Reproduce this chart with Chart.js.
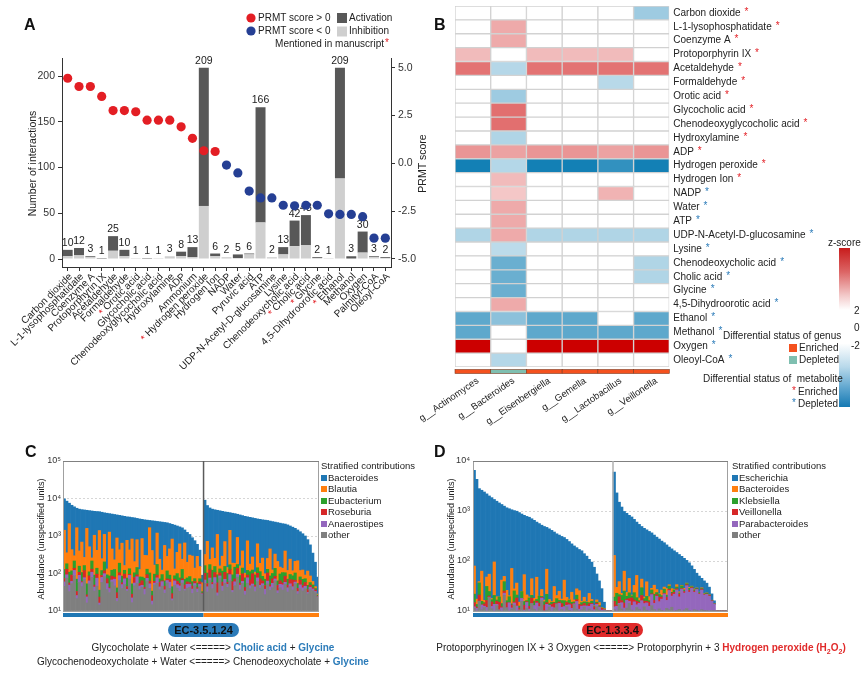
<!DOCTYPE html>
<html>
<head>
<meta charset="utf-8">
<script src="https://cdn.jsdelivr.net/npm/chart.js@4.4.1/dist/chart.umd.min.js"></script>
<style>
  body { margin: 0; background: #fff; font-family: "Liberation Sans", Arial, sans-serif; }
  #wrap { position: relative; width: 865px; height: 676px; overflow: hidden; background: #fff; }
  canvas { position: absolute; }
  .t { position: absolute; white-space: nowrap; color: #222; font-size: 10px; line-height: 12px; }
  .c { transform: translate(-50%, -50%); }
  .letter { position: absolute; font-weight: bold; font-size: 16px; line-height: 16px; color: #111; }
  .badge { position: absolute; height: 14px; line-height: 14px; border-radius: 7px; text-align: center;
           font-weight: bold; font-size: 11px; color: #111; }
  .bl { color: #2b7bb9; }
  .rd { color: #e02a2a; }
  .sq { display: inline-block; width: 6px; height: 6px; margin-right: 1px; vertical-align: 0px; }
  .leg { position: absolute; font-size: 9.5px; line-height: 11.5px; color: #222; white-space: nowrap; }
</style>
</head>
<body>
<div id="wrap">
  <canvas id="chartA" width="430" height="400" style="left:0;top:0"></canvas>
  <canvas id="chartB" width="465" height="438" style="left:400px;top:0"></canvas>
  <canvas id="chartC" width="430" height="236" style="left:0;top:440px"></canvas>
  <canvas id="chartD" width="435" height="236" style="left:430px;top:440px"></canvas>

  <div class="letter" style="left:24px;top:17px">A</div>
  <div class="letter" style="left:434px;top:17px">B</div>
  <div class="letter" style="left:25px;top:444px">C</div>
  <div class="letter" style="left:434px;top:444px">D</div>

  <div class="leg" style="left:321px;top:460px">
    <div>Stratified contributions</div>
    <div><span class="sq" style="background:#1f77b4"></span>Bacteroides</div>
    <div><span class="sq" style="background:#ff7f0e"></span>Blautia</div>
    <div><span class="sq" style="background:#2ca02c"></span>Eubacterium</div>
    <div><span class="sq" style="background:#d62728"></span>Roseburia</div>
    <div><span class="sq" style="background:#9467bd"></span>Anaerostipes</div>
    <div><span class="sq" style="background:#7f7f7f"></span>other</div>
  </div>
  <div class="leg" style="left:732px;top:460px">
    <div>Stratified contributions</div>
    <div><span class="sq" style="background:#1f77b4"></span>Escherichia</div>
    <div><span class="sq" style="background:#ff7f0e"></span>Bacteroides</div>
    <div><span class="sq" style="background:#2ca02c"></span>Klebsiella</div>
    <div><span class="sq" style="background:#d62728"></span>Veillonella</div>
    <div><span class="sq" style="background:#9467bd"></span>Parabacteroides</div>
    <div><span class="sq" style="background:#7f7f7f"></span>other</div>
  </div>

  <div class="badge" style="left:168px;top:623px;width:71px;background:#2b7bb9">EC-3.5.1.24</div>
  <div class="t c" style="left:213px;top:648px">Glycocholate + Water &lt;=====&gt; <b class="bl">Cholic acid</b> + <b class="bl">Glycine</b></div>
  <div class="t c" style="left:203px;top:662px">Glycochenodeoxycholate + Water &lt;=====&gt; Chenodeoxycholate + <b class="bl">Glycine</b></div>

  <div class="badge" style="left:582px;top:623px;width:61px;background:#e02a2a">EC-1.3.3.4</div>
  <div class="t c" style="left:641px;top:650px">Protoporphyrinogen IX + 3 Oxygen &lt;=====&gt; Protoporphyrin + 3 <b class="rd">Hydrogen peroxide (H<sub style="font-size:7px">2</sub>O<sub style="font-size:7px">2</sub>)</b></div>
</div>

<script>
const FONT = '"Liberation Sans", Arial, sans-serif';
Chart.defaults.font.family = FONT;
const RED = '#e31e24';
const BLUE = '#253f94';

// ---------- Panel A data ----------
const aLabels = ['Carbon dioxide', 'L-1-lysophosphatidate', 'Coenzyme A', 'Protoporphyrin IX', 'Acetaldehyde',
  'Formaldehyde', 'Orotic acid', 'Glycocholic acid', 'Chenodeoxyglycocholic acid', 'Hydroxylamine', 'ADP',
  'Ammonium', 'Hydrogen peroxide', 'Hydrogen Ion', 'NADP', 'Water', 'Pyruvic acid', 'ATP',
  'UDP-N-Acetyl-D-glucosamine', 'Lysine', 'Chenodeoxycholic acid', 'Cholic acid', 'Glycine',
  '4,5-Dihydroorotic acid', 'Ethanol', 'Methanol', 'Oxygen', 'Palmityl-CoA', 'Oleoyl-CoA'];
const aInhibition = [3, 4, 2, 0, 9, 3, 1, 0, 1, 3, 3, 2, 58, 3, 2, 1, 5, 40, 2, 5, 14, 15, 1, 1, 88, 0, 7, 2, 1];
const aActivation = [7, 8, 1, 1, 16, 7, 0, 1, 0, 0, 5, 11, 151, 3, 0, 4, 1, 126, 0, 8, 28, 33, 1, 0, 121, 3, 23, 1, 1];
const aScore = [4.45, 4.02, 4.02, 3.5, 2.76, 2.76, 2.7, 2.26, 2.26, 2.26, 1.91, 1.31, 0.66, 0.62, -0.09, -0.5,
  -1.45, -1.81, -1.81, -2.19, -2.22, -2.19, -2.19, -2.64, -2.67, -2.67, -2.79, -3.91, -3.91];
const aStarred = ['Orotic acid', 'Hydrogen peroxide', 'Cholic acid', 'Glycine', 'Ethanol'];
const aCountTicks = [0, 50, 100, 150, 200];
const aScoreTicks = [-5, -2.5, 0, 2.5, 5];

// ---------- Panel B data ----------
const hmRows = ['Carbon dioxide', 'L-1-lysophosphatidate', 'Coenzyme A', 'Protoporphyrin IX', 'Acetaldehyde',
  'Formaldehyde', 'Orotic acid', 'Glycocholic acid', 'Chenodeoxyglycocholic acid', 'Hydroxylamine', 'ADP',
  'Hydrogen peroxide', 'Hydrogen Ion', 'NADP', 'Water', 'ATP', 'UDP-N-Acetyl-D-glucosamine', 'Lysine',
  'Chenodeoxycholic acid', 'Cholic acid', 'Glycine', '4,5-Dihydroorotic acid', 'Ethanol', 'Methanol',
  'Oxygen', 'Oleoyl-CoA'];
const hmRowStatus = [1, 1, 1, 1, 1, 1, 1, 1, 1, 1, 1, 1, 1, -1, -1, -1, -1, -1, -1, -1, -1, -1, -1, -1, -1, -1];
const hmGenera = ['g__Actinomyces', 'g__Bacteroides', 'g__Eisenbergiella', 'g__Gemella', 'g__Lactobacillus', 'g__Veillonella'];
const hmGenusStatus = [1, -1, 1, 1, 1, 1];
const hmActinomyces =    [null, null, null, 0.8, 1.65, null, null, null, null, null, 1.25, -3, null, null, null, null, -1.0, null, null, null, null, null, -2.05, -2.05, 3, null];
const hmBacteroides =    [null, 1.0, 1.0, null, -0.94, null, -1.23, 1.7, 1.7, -1.0, 1.1, -0.95, 0.8, 0.66, 1.0, 1.0, 1.0, -0.85, -1.9, -1.9, -1.9, 1.0, -1.46, null, null, -0.95];
const hmEisenbergiella = [null, null, null, 0.8, 1.65, null, null, null, null, null, 1.25, -3, null, null, null, null, -1.0, null, null, null, null, null, -2.05, -2.05, 3, null];
const hmGemella =        [null, null, null, 0.8, 1.65, null, null, null, null, null, 1.25, -3, null, null, null, null, -1.0, null, null, null, null, null, -2.05, -2.05, 3, null];
const hmLactobacillus =  [null, null, null, 0.8, 1.65, -0.9, null, null, null, null, 1.1, -2.6, null, 0.9, null, null, -1.0, null, null, null, null, null, null, -2.05, 3, null];
const hmVeillonella =    [-1.23, null, null, null, 1.65, null, null, null, null, null, 1.25, -3, null, null, null, null, -1.0, null, -1.0, -1.0, null, null, -2.05, -2.05, 3, null];

// ---------- Panel C data: samples sorted by total abundance; shares in % of each sample ----------
const cGroups = [56, 46];
const cTotal = [9800,8500,7500,6600,6000,5500,5200,5050,4950,4850,4750,4650,4550,4500,4450,4300,4150,4050,3950,3850,
  3750,3650,3550,3450,3350,3250,3200,3120,3050,2950,2850,2780,2700,2650,2600,2550,2500,2450,2400,2350,
  2300,2250,2150,2050,1950,1850,1750,1650,1450,1250,1100,900,750,600,420,90,
  9000,6500,5600,5200,5000,4850,4700,4550,4400,4300,4200,4050,3950,3800,3650,3500,3350,3250,3150,3050,
  2950,2850,2780,2700,2650,2600,2500,2420,2350,2280,2200,2130,2080,1980,1850,1720,1600,1450,1300,1150,
  1000,800,580,350,200,80];
const cOtherPct = [22,30,18,26,34,12,28,24,31,8,27,33,20,25,6,29,35,22,19,30,26,10,32,24,28,21,34,9,27,30,
  23,26,18,33,25,7,29,31,24,28,20,35,26,12,30,27,22,33,25,29,31,24,36,28,40,45,
  25,18,30,22,27,15,33,20,28,24,31,19,26,35,22,29,17,30,24,27,21,32,25,28,18,30,23,26,34,20,
  27,24,31,22,29,25,33,21,28,26,30,24,32,35,38,40];
const cAnaerostipesPct = [4,3,6,2,5,3,7,4,2,6,3,5,4,8,2,5,3,6,4,2,7,3,5,4,6,2,4,5,3,7,
  4,2,6,3,5,4,2,6,3,5,4,3,7,2,5,4,6,3,2,5,4,6,3,5,4,3,
  3,5,2,4,6,3,2,5,4,3,6,2,4,3,5,2,4,6,3,2,5,4,3,2,6,3,4,5,2,3,
  4,6,2,5,3,4,2,3,5,4,3,2,4,3,2,2];
const cRoseburiaPct = [3,5,2,6,2,4,3,1,7,2,5,3,2,4,6,2,3,5,1,4,2,6,3,2,5,3,1,4,6,2,
  3,5,2,4,3,6,2,3,5,1,4,2,3,6,2,4,3,2,5,3,2,4,3,2,4,2,
  6,3,8,2,5,10,3,4,7,2,5,9,3,6,2,8,4,3,6,11,2,5,7,3,4,9,2,5,3,6,
  4,2,7,3,5,8,2,4,6,3,5,4,3,2,3,2];
const cEubacteriumPct = [8,5,10,4,7,12,6,9,5,11,4,8,10,6,7,5,9,4,12,6,8,5,10,7,4,9,6,11,5,8,
  7,4,10,6,9,5,8,12,4,7,6,10,5,8,4,9,6,11,7,5,8,6,4,7,5,4,
  7,10,5,12,6,8,4,11,6,9,5,7,12,4,8,6,10,5,9,4,11,6,8,5,7,4,10,6,9,5,
  8,12,4,7,6,5,9,6,4,8,5,6,4,5,3,3];
const cBlautiaPct = [35,10,45,20,5,50,15,30,8,55,25,3,40,18,60,12,28,6,45,22,10,52,14,35,5,40,20,48,12,30,
  8,42,25,15,50,45,10,35,22,5,40,18,30,55,8,25,38,12,45,20,28,35,15,40,20,25,
  10,30,5,22,8,40,3,15,25,6,35,12,4,28,10,18,5,32,8,14,3,26,9,20,6,12,30,4,16,22,
  8,5,25,10,18,6,14,28,8,12,5,20,10,6,4,3];
const cBacteroidesPct = [28,47,19,42,47,19,41,32,47,18,36,46,24,39,19,47,22,57,19,36,47,24,36,29,52,25,35,23,47,23,
  55,21,39,39,8,33,49,13,42,54,26,42,29,17,51,31,19,37,16,38,27,25,39,18,27,21,
  49,34,50,38,48,24,55,45,30,56,18,51,51,24,53,37,60,26,50,42,58,27,48,42,59,42,31,54,36,44,
  51,51,31,53,39,52,40,38,49,47,52,44,47,49,50,50];
const cTicks = [10, 100, 1000, 10000, 100000];

// ---------- Panel D data ----------
const dGroups = [56, 46];
const dTotal = [6500,4300,2800,2600,2400,2200,2000,1850,1700,1570,1450,1350,1250,1160,1110,1060,1020,990,930,870,
  820,780,750,700,650,600,560,520,490,470,440,410,380,350,330,310,295,270,245,220,
  200,185,170,160,140,125,108,95,75,55,40,28,15,0,0,0,
  6000,2300,1500,1200,980,900,820,760,680,600,540,490,450,420,390,365,330,300,275,250,
  232,210,190,175,160,148,135,124,113,103,92,80,68,57,50,45,40,36,30,22,
  16,10,0,0,0,0];
const dOtherPct = [2,0,8,1,3,0,12,2,0,5,1,0,15,3,0,2,6,0,1,10,0,3,0,8,2,0,4,12,0,1,
  5,0,3,9,0,2,0,6,1,0,10,3,0,2,7,0,4,1,0,12,3,0,5,0,0,0,
  1,0,6,2,0,3,8,1,0,4,2,0,5,1,0,7,2,0,3,1,0,4,2,6,0,1,3,0,2,5,
  1,0,3,2,0,4,1,2,0,3,2,0,0,0,0,0];
const dParabacteroidesPct = [1,2,0,4,1,3,0,2,6,1,0,3,2,0,8,1,2,5,0,3,1,6,2,0,4,9,1,3,0,7,
  2,5,1,0,10,3,6,2,8,4,1,12,3,6,2,9,5,14,3,6,10,4,8,0,0,0,
  2,4,1,6,3,8,2,5,10,3,7,12,4,9,6,14,8,20,10,16,25,12,30,18,28,35,22,40,32,45,
  38,50,42,55,48,60,52,58,62,55,65,60,0,0,0,0];
const dVeillonellaPct = [3,1,5,0,2,6,1,4,0,3,7,1,2,5,0,3,1,8,2,0,5,1,3,6,0,2,4,1,7,2,
  0,3,6,1,2,5,0,4,2,6,1,3,7,2,4,1,5,2,6,3,1,8,4,0,0,0,
  4,1,6,2,5,1,3,8,2,4,1,6,3,2,5,1,4,2,6,3,1,5,2,4,3,2,5,1,3,2,
  4,2,3,1,2,3,2,1,3,2,1,2,0,0,0,0];
const dKlebsiellaPct = [6,2,10,3,1,12,4,2,8,1,5,3,9,2,6,1,11,3,2,7,4,1,9,3,5,2,8,1,4,10,
  2,3,1,6,2,4,8,1,5,3,2,7,1,4,3,6,2,5,1,3,4,2,6,0,0,0,
  3,10,2,5,12,3,6,2,8,4,2,9,3,6,2,5,8,3,4,2,6,3,5,2,4,3,2,5,3,2,
  4,2,3,2,3,2,2,3,2,2,1,2,0,0,0,0];
const dBacteroidesPct = [20,4,1,25,2,8,15,1,30,3,0,22,5,10,1,35,2,12,4,0,28,6,1,18,3,25,0,8,2,30,
  5,1,20,4,12,2,28,6,1,15,3,10,22,2,8,1,18,4,2,6,10,2,5,0,0,0,
  30,5,12,2,20,4,15,1,8,25,3,10,2,18,5,2,12,4,1,8,3,10,2,6,1,4,2,1,3,1,
  2,1,2,1,1,2,1,1,1,1,1,1,0,0,0,0];
const dEscherichiaPct = [68,91,76,67,91,71,68,89,56,87,87,71,67,80,85,58,78,72,91,80,62,83,85,65,86,62,83,75,87,50,
  86,88,69,80,74,84,58,81,83,72,83,65,67,84,76,83,66,84,88,70,72,84,70,0,0,0,
  60,80,73,83,60,81,66,83,72,60,85,61,83,64,82,71,66,71,76,70,65,66,59,64,64,55,66,53,57,45,
  51,45,47,39,46,29,42,35,32,37,30,35,0,0,0,0];
const dTicks = [10, 100, 1000, 10000];

const GROUP_COLORS = ['#1f77b4', '#ff7f0e'];

// ================= Panel A =================
const aPlugin = {
  id: 'aDeco',
  afterDatasetDraw(chart, args) {
    if (args.index !== 1) return;
    const ctx = chart.ctx;
    const meta = chart.getDatasetMeta(2);
    ctx.save();
    ctx.font = '10.5px ' + FONT;
    ctx.fillStyle = '#222';
    ctx.textAlign = 'center';
    ctx.textBaseline = 'bottom';
    meta.data.forEach((bar, i) => {
      ctx.fillText(String(aInhibition[i] + aActivation[i]), bar.x, bar.y - 1.5);
    });
    ctx.restore();
  },
  afterDraw(chart) {
    const ctx = chart.ctx;
    const xs = chart.scales.x;
    ctx.save();
    // rotated category labels
    ctx.font = '10px ' + FONT;
    ctx.textAlign = 'right';
    ctx.textBaseline = 'middle';
    aLabels.forEach((lab, i) => {
      const x = xs.getPixelForValue(i);
      ctx.save();
      ctx.translate(x + 3, xs.top + 8);
      ctx.rotate(-Math.PI / 4);
      ctx.fillStyle = '#222';
      ctx.fillText(lab, 0, 0);
      if (aStarred.includes(lab)) {
        const w = ctx.measureText(lab).width;
        ctx.fillStyle = RED;
        ctx.fillText('*', -w - 3, 1);
      }
      ctx.restore();
    });
    // axis titles
    ctx.font = '10.5px ' + FONT;
    ctx.fillStyle = '#222';
    ctx.textAlign = 'center';
    ctx.textBaseline = 'middle';
    [[33, 'Number of interactions'], [423, 'PRMT score']].forEach(([x, s]) => {
      ctx.save();
      ctx.translate(x, (chart.chartArea.top + chart.chartArea.bottom) / 2 + 1);
      ctx.rotate(-Math.PI / 2);
      ctx.fillText(s, 0, 0);
      ctx.restore();
    });
    // legend
    ctx.font = '10px ' + FONT;
    ctx.textAlign = 'left';
    ctx.fillStyle = RED;
    ctx.beginPath(); ctx.arc(251, 18, 4.6, 0, Math.PI * 2); ctx.fill();
    ctx.fillStyle = BLUE;
    ctx.beginPath(); ctx.arc(251, 31, 4.6, 0, Math.PI * 2); ctx.fill();
    ctx.fillStyle = '#585858'; ctx.fillRect(337, 13, 10, 10);
    ctx.fillStyle = '#cfcfcf'; ctx.fillRect(337, 26.5, 10, 10);
    ctx.fillStyle = '#222';
    ctx.fillText('PRMT score > 0', 258, 18.5);
    ctx.fillText('PRMT score < 0', 258, 31.5);
    ctx.fillText('Activation', 349, 18.5);
    ctx.fillText('Inhibition', 349, 31.5);
    ctx.textAlign = 'right';
    ctx.fillText('Mentioned in manuscript', 384, 44);
    ctx.fillStyle = RED;
    ctx.textAlign = 'left';
    ctx.fillText('*', 385, 43);
    ctx.restore();
  }
};

new Chart(document.getElementById('chartA'), {
  type: 'bar',
  data: {
    labels: aLabels,
    datasets: [
      { type: 'line', label: 'PRMT score', data: aScore, yAxisID: 'y2', showLine: false,
        pointRadius: 4.6, pointBorderWidth: 0,
        pointBackgroundColor: aScore.map(v => v > 0 ? RED : BLUE) },
      { label: 'Inhibition', data: aInhibition, yAxisID: 'y', backgroundColor: '#cfcfcf',
        barPercentage: 0.88, categoryPercentage: 1 },
      { label: 'Activation', data: aActivation, yAxisID: 'y', backgroundColor: '#585858',
        barPercentage: 0.88, categoryPercentage: 1 }
    ]
  },
  options: {
    responsive: false,
    animation: false,
    layout: { padding: { top: 58 } },
    plugins: { legend: { display: false }, tooltip: { enabled: false } },
    scales: {
      x: {
        stacked: true,
        ticks: { display: false },
        grid: { drawOnChartArea: false, offset: false, tickLength: 4, color: '#333' },
        border: { color: '#333' },
        afterFit: s => { s.height = 133; }
      },
      y: {
        stacked: true, position: 'left', min: -8.74, max: 219.7,
        afterBuildTicks: s => { s.ticks = aCountTicks.map(v => ({ value: v })); },
        ticks: { font: { size: 10.5 }, color: '#333', padding: 3 },
        grid: { drawOnChartArea: false, tickLength: 4, color: '#333' },
        border: { color: '#333' },
        afterFit: s => { s.width = 62; }
      },
      y2: {
        position: 'right', min: -5.42, max: 5.51,
        afterBuildTicks: s => { s.ticks = aScoreTicks.map(v => ({ value: v })); },
        ticks: { font: { size: 10.5 }, color: '#333', padding: 3, callback: v => v.toFixed(1) },
        grid: { drawOnChartArea: false, tickLength: 4, color: '#333' },
        border: { color: '#333' },
        afterFit: s => { s.width = 39; }
      }
    }
  },
  plugins: [aPlugin]
});

// ================= Panel B =================
// canvas B starts at page x = 400, so legend positions below are page x - 400
function zColor(z) {
  if (z === null) return '#ffffff';
  const t = Math.min(Math.abs(z) / 3, 1);
  const end = z > 0 ? [204, 0, 0] : [19, 128, 181];
  const c = end.map(e => Math.round(255 + (e - 255) * t));
  return 'rgb(' + c.join(',') + ')';
}

const hmColumns = [hmActinomyces, hmBacteroides, hmEisenbergiella, hmGemella, hmLactobacillus, hmVeillonella];

const bPlugin = {
  id: 'bDeco',
  afterDraw(chart) {
    const ctx = chart.ctx;
    const xs = chart.scales.x, ys = chart.scales.y;
    const area = chart.chartArea;
    ctx.save();
    // row labels
    ctx.font = '10px ' + FONT;
    ctx.textBaseline = 'middle';
    ctx.textAlign = 'left';
    hmRows.forEach((r, i) => {
      const y = ys.getPixelForValue(i);
      ctx.fillStyle = '#222';
      ctx.fillText(r, area.right + 4, y);
      const w = ctx.measureText(r).width;
      ctx.fillStyle = hmRowStatus[i] > 0 ? RED : '#2b7bb9';
      ctx.fillText('*', area.right + 4 + w + 4, y - 1);
    });
    // genus annotation strip
    hmGenera.forEach((g, j) => {
      const x0 = xs.getPixelForValue(j), x1 = xs.getPixelForValue(j + 1);
      ctx.fillStyle = hmGenusStatus[j] > 0 ? '#f4511e' : '#7fbfb0';
      ctx.fillRect(x0, area.bottom + 2.5, x1 - x0, 4);
      ctx.strokeStyle = '#7a3a20';
      ctx.lineWidth = 0.6;
      ctx.strokeRect(x0, area.bottom + 2.5, x1 - x0, 4);
    });
    // genus labels
    ctx.font = '9.5px ' + FONT;
    ctx.fillStyle = '#222';
    ctx.textAlign = 'right';
    hmGenera.forEach((g, j) => {
      const x = xs.getPixelForValue(j + 0.5);
      ctx.save();
      ctx.translate(x + 5, area.bottom + 13);
      ctx.rotate(-0.6);
      ctx.fillText(g, 0, 0);
      ctx.restore();
    });
    // z-score colour bar
    ctx.textAlign = 'left';
    ctx.font = '10px ' + FONT;
    ctx.fillText('z-score', 428, 243);
    const grad = ctx.createLinearGradient(0, 248, 0, 407);
    grad.addColorStop(0, '#c81c1c');
    grad.addColorStop(0.15, '#dc6565');
    grad.addColorStop(0.3, '#f3caca');
    grad.addColorStop(0.39, '#ffffff');
    grad.addColorStop(0.6, '#ffffff');
    grad.addColorStop(0.75, '#b7d8ea');
    grad.addColorStop(0.88, '#5fa6cf');
    grad.addColorStop(1, '#1579b3');
    ctx.fillStyle = grad;
    ctx.fillRect(439, 248, 11, 159);
    ctx.fillStyle = '#222';
    ctx.fillText('2', 454, 311);
    ctx.fillText('0', 454, 328);
    ctx.fillText('-2', 451, 346);
    // differential status legends
    ctx.fillText('Differential status of genus', 323, 336);
    ctx.fillStyle = '#f4511e'; ctx.fillRect(389, 344, 8, 8);
    ctx.fillStyle = '#7fbfb0'; ctx.fillRect(389, 356, 8, 8);
    ctx.fillStyle = '#222';
    ctx.fillText('Enriched', 399, 348.5);
    ctx.fillText('Depleted', 399, 360.5);
    ctx.fillText('Differential status of  metabolite', 303, 379);
    ctx.fillText('Enriched', 398, 392);
    ctx.fillText('Depleted', 398, 404);
    ctx.fillStyle = RED; ctx.fillText('*', 392, 391);
    ctx.fillStyle = '#2b7bb9'; ctx.fillText('*', 392, 403);
    ctx.restore();
  }
};

new Chart(document.getElementById('chartB'), {
  type: 'bar',
  data: {
    labels: hmRows,
    datasets: hmColumns.map((col, j) => ({
      label: hmGenera[j],
      data: col.map(() => [j, j + 1]),
      backgroundColor: col.map(zColor),
      borderColor: '#d2d2d2',
      borderWidth: 1,
      borderSkipped: false,
      grouped: false,
      barPercentage: 1,
      categoryPercentage: 1
    }))
  },
  options: {
    indexAxis: 'y',
    responsive: false,
    animation: false,
    layout: { padding: { left: 55, right: 195.7, top: 6, bottom: 71 } },
    plugins: { legend: { display: false }, tooltip: { enabled: false } },
    scales: {
      x: { type: 'linear', min: 0, max: 6, display: false },
      y: { display: false }
    }
  },
  plugins: [bPlugin]
});

// ================= Panels C and D =================
const SUP = { '1': '\u00b9', '2': '\u00b2', '3': '\u00b3', '4': '\u2074', '5': '\u2075' };

// "logstack" as in HUMAnN barplots: the stack height is log-scaled,
// each taxon gets a linear share of that height
function logStack(total, shares, ymin) {
  return shares.map(sh => sh.map((p, i) => {
    const sum = shares.reduce((s, arr) => s + arr[i], 0);
    const h = total[i] > ymin ? Math.log10(total[i] / ymin) : 0;
    return sum > 0 ? p / sum * h : 0;
  }));
}

function abundanceChart(id, total, series, ticks, groups, box, dividerColor, titleX) {
  const ymin = ticks[0];
  const heights = logStack(total, series.map(s => s.data), ymin);
  const deco = {
    id: 'deco_' + id,
    afterDraw(chart) {
      const ctx = chart.ctx, a = chart.chartArea, xs = chart.scales.x;
      ctx.save();
      ctx.strokeStyle = '#a0a0a0';
      ctx.lineWidth = 1;
      ctx.strokeRect(a.left + 0.5, a.top + 0.5, a.right - a.left - 1, a.bottom - a.top);
      ctx.strokeStyle = '#808080';
      ctx.beginPath(); ctx.moveTo(a.left, a.top + 0.5); ctx.lineTo(a.right, a.top + 0.5); ctx.stroke();
      let start = 0;
      groups.forEach((g, k) => {
        const x0 = xs.getPixelForValue(start - 0.5), x1 = xs.getPixelForValue(start + g - 0.5);
        ctx.fillStyle = GROUP_COLORS[k];
        ctx.fillRect(x0, a.bottom + 2, x1 - x0, 4);
        if (k > 0) {
          ctx.strokeStyle = dividerColor;
          ctx.lineWidth = 1.5;
          ctx.beginPath(); ctx.moveTo(x0, a.top); ctx.lineTo(x0, a.bottom); ctx.stroke();
        }
        start += g;
      });
      ctx.font = '9px ' + FONT;
      ctx.fillStyle = '#222';
      ctx.textAlign = 'center';
      ctx.textBaseline = 'middle';
      ctx.translate(titleX, (a.top + a.bottom) / 2 + 3);
      ctx.rotate(-Math.PI / 2);
      ctx.fillText('Abundance (unspecified units)', 0, 0);
      ctx.restore();
    }
  };
  return new Chart(document.getElementById(id), {
    type: 'bar',
    data: {
      labels: total.map((_, i) => 'S' + (i + 1)),
      datasets: series.map((s, k) => ({
        label: s.name, data: heights[k], backgroundColor: s.color,
        barPercentage: 1, categoryPercentage: 1, borderWidth: 0
      }))
    },
    options: {
      responsive: false,
      animation: false,
      layout: { padding: { top: box.top, right: box.right } },
      plugins: { legend: { display: false }, tooltip: { enabled: false } },
      scales: {
        x: {
          stacked: true,
          ticks: { display: false },
          grid: { display: false },
          border: { display: false },
          afterFit: s => { s.height = box.xh; }
        },
        y: {
          stacked: true, min: 0, max: Math.log10(ticks[ticks.length - 1] / ymin),
          afterBuildTicks: s => { s.ticks = ticks.map(v => ({ value: Math.log10(v / ymin) })); },
          ticks: {
            font: { size: 9 }, color: '#333', padding: box.pad,
            callback: v => '10' + SUP[String(Math.round(v + Math.log10(ymin)))]
          },
          grid: { color: '#cccccc', drawTicks: false, lineWidth: 0.8 },
          border: { display: false, dash: [2, 2] },
          afterFit: s => { s.width = box.yw; }
        }
      }
    },
    plugins: [deco]
  });
}

abundanceChart('chartC', cTotal, [
  { name: 'other', data: cOtherPct, color: '#7f7f7f' },
  { name: 'Anaerostipes', data: cAnaerostipesPct, color: '#9467bd' },
  { name: 'Roseburia', data: cRoseburiaPct, color: '#d62728' },
  { name: 'Eubacterium', data: cEubacteriumPct, color: '#2ca02c' },
  { name: 'Blautia', data: cBlautiaPct, color: '#ff7f0e' },
  { name: 'Bacteroides', data: cBacteroidesPct, color: '#1f77b4' }
], cTicks, cGroups, { top: 21, right: 111, xh: 65, yw: 63, pad: 2 }, '#5a5a5a', 42);

abundanceChart('chartD', dTotal, [
  { name: 'other', data: dOtherPct, color: '#7f7f7f' },
  { name: 'Parabacteroides', data: dParabacteroidesPct, color: '#9467bd' },
  { name: 'Veillonella', data: dVeillonellaPct, color: '#d62728' },
  { name: 'Klebsiella', data: dKlebsiellaPct, color: '#2ca02c' },
  { name: 'Bacteroides', data: dBacteroidesPct, color: '#ff7f0e' },
  { name: 'Escherichia', data: dEscherichiaPct, color: '#1f77b4' }
], dTicks, dGroups, { top: 21, right: 137, xh: 65, yw: 43, pad: 3 }, '#b0b0b0', 22);
</script>
</body>
</html>
